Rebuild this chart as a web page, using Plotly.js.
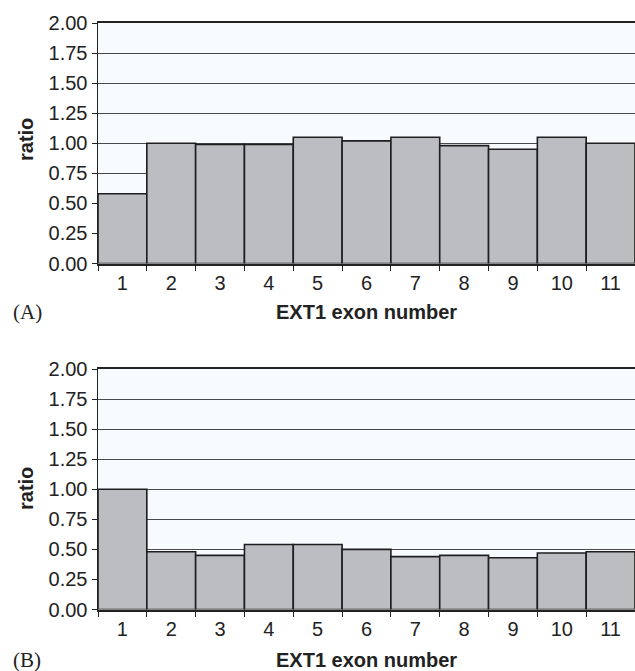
<!DOCTYPE html>
<html>
<head>
<meta charset="utf-8">
<script src="https://cdn.plot.ly/plotly-3.0.1.min.js"></script>
<style>html,body{margin:0;padding:0;background:#fff;}#chart{width:635px;height:671px;}</style>
</head>
<body>
<div id="chart"></div>
<script>
const exons = ["1","2","3","4","5","6","7","8","9","10","11"];
const ratioA = [0.58, 1.00, 0.99, 0.99, 1.05, 1.02, 1.05, 0.98, 0.95, 1.05, 1.00];
const ratioB = [1.00, 0.48, 0.45, 0.54, 0.54, 0.50, 0.44, 0.45, 0.43, 0.47, 0.48];
const yTicks = [0, 0.25, 0.5, 0.75, 1.0, 1.25, 1.5, 1.75, 2.0];

const W = 635, H = 671;
const barStyle = {color: "#bcbdc1", line: {color: "#1e1e1e", width: 1.6}};

const traces = [
  {type: "bar", x: exons, y: ratioA, xaxis: "x", yaxis: "y", marker: barStyle, hoverinfo: "x+y"},
  {type: "bar", x: exons, y: ratioB, xaxis: "x2", yaxis: "y2", marker: barStyle, hoverinfo: "x+y"}
];

const tickFont = {family: "Liberation Sans, Arial, sans-serif", size: 20, color: "#222"};
function xAxis(anchor) {
  return {
    type: "category", anchor: anchor, domain: [98/W, 1], range: [-0.5, 10.5],
    tickson: "boundaries", ticks: "outside", ticklen: 5, tickwidth: 1, tickcolor: "#222",
    showline: true, linecolor: "#222", linewidth: 2, mirror: true,
    showgrid: false, tickfont: tickFont, fixedrange: true
  };
}
function yAxis(anchor, dom) {
  return {
    anchor: anchor, domain: dom, range: [0, 2], tickvals: yTicks, tickformat: ".2f",
    ticks: "outside", ticklen: 5, tickwidth: 1, tickcolor: "#222",
    showline: true, linecolor: "#222", linewidth: 1.5,
    showgrid: true, gridcolor: "#4a4a4a", gridwidth: 1, zeroline: false,
    tickfont: tickFont, fixedrange: true
  };
}

const titleFont = {family: "Liberation Sans, Arial, sans-serif", size: 20, color: "#222"};
const labelFont = {family: "Liberation Serif, Times New Roman, serif", size: 21, color: "#222"};

const layout = {
  width: W, height: H,
  margin: {l: 0, r: 0, t: 0, b: 0},
  paper_bgcolor: "#ffffff", plot_bgcolor: "#f7fbfd",
  showlegend: false, bargap: 0,
  xaxis: xAxis("y"),
  yaxis: yAxis("x", [1 - 263.5/H, 1 - 23/H]),
  xaxis2: xAxis("y2"),
  yaxis2: yAxis("x2", [1 - 609.5/H, 1 - 369/H]),
  annotations: [
    {text: "<b>ratio</b>", xref: "paper", yref: "paper", x: 26/W, y: 1 - 140/H, textangle: -90, showarrow: false, font: titleFont, xanchor: "center", yanchor: "middle"},
    {text: "<b>ratio</b>", xref: "paper", yref: "paper", x: 26/W, y: 1 - 489/H, textangle: -90, showarrow: false, font: titleFont, xanchor: "center", yanchor: "middle"},
    {text: "<b>EXT1 exon number</b>", xref: "paper", yref: "paper", x: 367/W, y: 1 - 312/H, showarrow: false, font: titleFont, xanchor: "center", yanchor: "middle"},
    {text: "<b>EXT1 exon number</b>", xref: "paper", yref: "paper", x: 367/W, y: 1 - 660/H, showarrow: false, font: titleFont, xanchor: "center", yanchor: "middle"},
    {text: "(A)", xref: "paper", yref: "paper", x: 27/W, y: 1 - 312/H, showarrow: false, font: labelFont, xanchor: "center", yanchor: "middle"},
    {text: "(B)", xref: "paper", yref: "paper", x: 27/W, y: 1 - 660/H, showarrow: false, font: labelFont, xanchor: "center", yanchor: "middle"}
  ]
};

Plotly.newPlot("chart", traces, layout, {displayModeBar: false, staticPlot: true});
</script>
</body>
</html>
